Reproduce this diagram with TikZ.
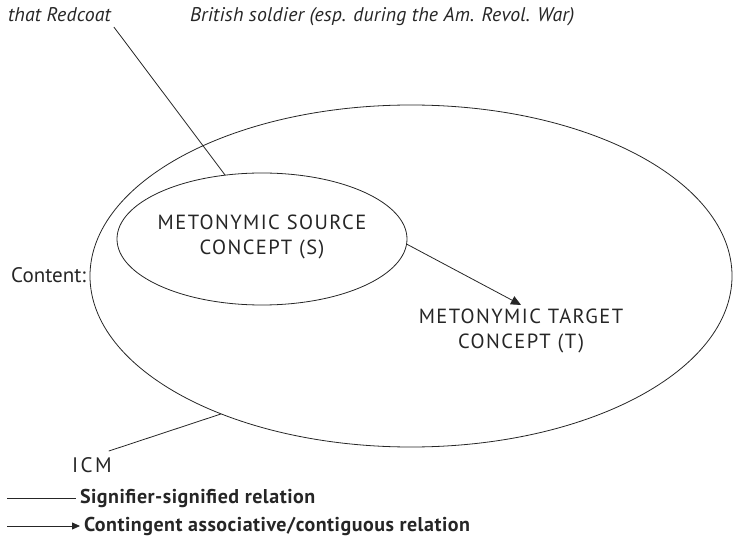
\documentclass[tikz,border=0pt]{standalone}
\usepackage{fontspec}
\setmainfont{PT Sans}
\usetikzlibrary{shapes.geometric,arrows.meta}
\begin{document}
\begin{tikzpicture}[x=1bp,y=-1bp,
  every node/.style={inner sep=0pt, outer sep=0pt},
  thin line/.style={line width=0.8bp, draw=black!85},
  oval/.style={ellipse, draw, line width=0.8bp, draw=black!85},
  caps/.style={font=\fontsize{20.5bp}{25bp}\selectfont\addfontfeatures{LetterSpace=7}, align=center, text=black!85},
  gloss/.style={font=\fontsize{19.8bp}{22bp}\selectfont\itshape\addfontfeatures{LetterSpace=1}, text=black!85},
  plain/.style={font=\fontsize{21bp}{22bp}\selectfont, text=black!85},
  spaced/.style={font=\fontsize{21bp}{22bp}\selectfont\addfontfeatures{LetterSpace=12}, text=black!85},
  legend/.style={font=\fontsize{20bp}{20bp}\selectfont\bfseries\addfontfeatures{LetterSpace=2.5}, text=black!85},
  tip/.style={-{Triangle[length=10bp,width=9bp]}},
  small tip/.style={-{Triangle[length=8bp,width=7bp]}}]
  \useasboundingbox (0,0) rectangle (733,537);

  % top glosses
  \node[gloss, anchor=base west] (rc) at (8,22) {that Redcoat};
  \node[gloss, anchor=base west] (brit) at (190,22) {British soldier (esp. during the Am. Revol. War)};

  % ICM and metonymic source
  \node[oval, minimum width=642bp, minimum height=342bp] (icmoval) at (411,276) {};
  \node[oval, minimum width=290bp, minimum height=132bp] (src) at (262,239) {};
  \node[caps] (srctext) at (262,237) {METONYMIC SOURCE\\CONCEPT (S)};
  \node[caps] (tgt) at (521,331) {METONYMIC TARGET\\CONCEPT (T)};

  \node[plain, anchor=base east] (content) at (86,283) {Content:};
  \node[spaced, anchor=base west] (icm) at (72,472) {ICM};

  % connectors
  \draw[thin line] ([xshift=3bp,yshift=-5bp]rc.base east) -- (src.120.6);
  \draw[thin line, tip] (src.-2) -- ([yshift=4bp]tgt.north);
  \draw[thin line] ([xshift=-3bp,yshift=6bp]icm.north east) -- (icmoval.216.5);

  % legend
  \coordinate (l1) at (7,498);
  \coordinate (l2) at (7,526);
  \node[legend, anchor=west] (sig) at (80,498) {Signifier-signified relation};
  \node[legend, anchor=west] (con) at (84,526) {Contingent associative/contiguous relation};
  \draw[thin line] (l1) -- ([xshift=-4bp]sig.west);
  \draw[thin line, small tip] (l2) -- ([xshift=-4bp]con.west);
\end{tikzpicture}
\end{document}
